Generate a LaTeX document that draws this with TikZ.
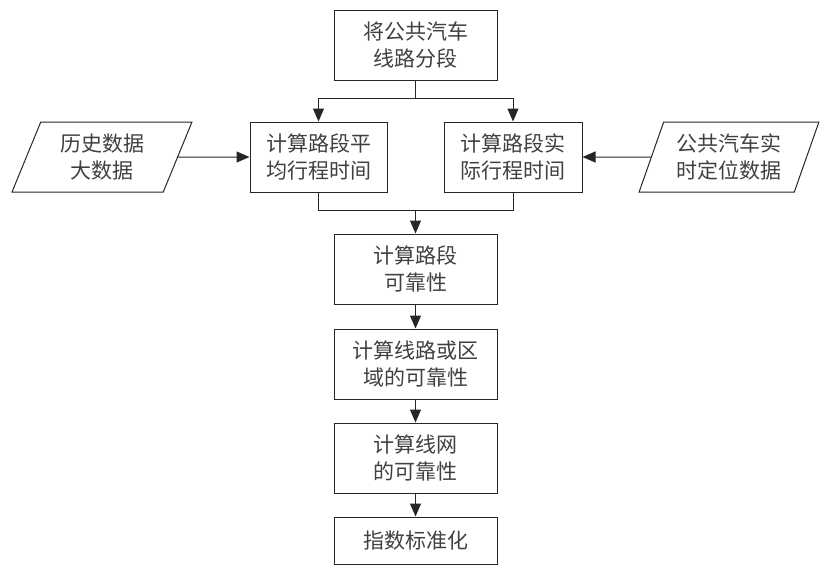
\documentclass[tikz,border=0pt]{standalone}
\usepackage{fontspec}
\setmainfont{Noto Sans CJK SC}
\usetikzlibrary{arrows.meta,shapes.geometric}
\tikzset{
	stepbox/.style={draw=black!85,line width=1pt,minimum height=70pt,align=center,text=black!75,font=\fontsize{21}{27}\selectfont,inner sep=0pt},
	databox/.style={stepbox,trapezium,trapezium left angle=67,trapezium right angle=113,trapezium stretches=true,minimum width=180pt},
	flow/.style={draw=black!85,line width=1pt,-{Triangle[width=11pt,length=13pt]}},
	link/.style={draw=black!85,line width=1pt}
}
\begin{document}
\begin{tikzpicture}[x=1pt,y=-1pt]
			\useasboundingbox (0,0) rectangle (831,574);
			\node[stepbox,minimum width=163pt] (split) at (415.5,45) {将公共汽车\\线路分段};
			\node[stepbox,minimum width=137pt] (avg) at (318.5,157) {计算路段平\\均行程时间};
			\node[stepbox,minimum width=138pt] (act) at (513,157) {计算路段实\\际行程时间};
			\node[databox] (hist) at (102,157) {历史数据\\大数据};
			\node[databox] (gps) at (729,157) {公共汽车实\\时定位数据};
			\node[stepbox,minimum width=163pt] (seg) at (415.5,269) {计算路段\\可靠性};
			\node[stepbox,minimum width=163pt] (line) at (415.5,364) {计算线路或区\\域的可靠性};
			\node[stepbox,minimum width=163pt] (net) at (415.5,458) {计算线网\\的可靠性};
			\node[stepbox,minimum width=163pt,minimum height=47pt] (idx) at (415.5,540.5) {指数标准化};
			\coordinate (fork) at (415.5,98);
			\coordinate (join) at (415.5,210);
			\draw[link] (split) -- (fork);
			\draw[flow] (fork) -| (avg);
			\draw[flow] (fork) -| (act);
			\draw[link] (avg) |- (join);
			\draw[link] (act) |- (join);
			\draw[flow] (join) -- (seg);
			\draw[flow] (hist) -- (avg);
			\draw[flow] (gps) -- (act);
			\draw[flow] (seg) -- (line);
			\draw[flow] (line) -- (net);
			\draw[flow] (net) -- (idx);
\end{tikzpicture}
\end{document}
